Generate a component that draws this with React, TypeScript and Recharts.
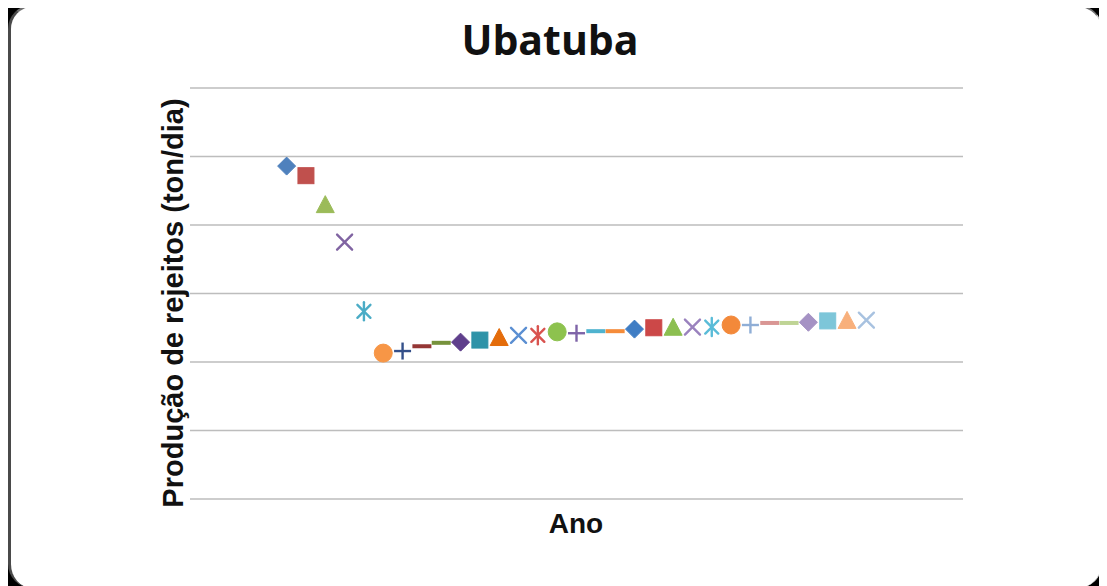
import React from 'react';
import { ScatterChart, Scatter, XAxis, YAxis, CartesianGrid } from 'recharts';

// ---- data ----
const years: number[] = [
  2000, 2001, 2002, 2003, 2004, 2005, 2006, 2007, 2008, 2009,
  2010, 2011, 2012, 2013, 2014, 2015, 2016, 2017, 2018, 2019,
  2020, 2021, 2022, 2023, 2024, 2025, 2026, 2027, 2028, 2029, 2030,
];
const production: number[] = [
  48.6, 47.2, 42.9, 37.5, 27.4, 21.3, 21.6, 22.3, 22.8, 22.9,
  23.2, 23.5, 23.9, 23.9, 24.4, 24.2, 24.5, 24.5, 24.8, 25.0,
  25.0, 25.1, 25.1, 25.4, 25.4, 25.7, 25.7, 25.8, 26.0, 26.0, 26.1,
];
const yTicks: number[] = [0, 10, 20, 30, 40, 50, 60];
const xDomain: [number, number] = [1995, 2035];

const titleText = 'Ubatuba';
const yLabelText = 'Produção de rejeitos (ton/dia)';
const xLabelText = 'Ano';

// ---- styles ----
const palettes: string[][] = [
  ['#4F81BD', '#C0504D', '#9BBB59', '#8064A2', '#4BACC6', '#F79646'],
  ['#34508A', '#953735', '#76923C', '#5F3F8C', '#2E93A8', '#E46C0A'],
  ['#5B8FD2', '#D9534F', '#8DC24E', '#7E64A8', '#4FB3CF', '#F58C3A'],
  ['#3F7DC4', '#CC4848', '#8CBF50', '#9A82BE', '#5ABCD8', '#F3893A'],
  ['#8FAED6', '#D99694', '#BFD495', '#A592C4', '#7DC6D9', '#F8B07C'],
  ['#A8C2E0', '#E0A8A6', '#C9DCA6', '#B8A9D0', '#98D2E1', '#FAC59E'],
];
const markerCycle = ['diamond', 'square', 'triangle', 'x', 'star', 'circle', 'plus', 'dash', 'dash'];

const data = years.map((y, i) => ({ year: y, value: production[i], idx: i }));

const colorOf = (i: number) => palettes[Math.floor(i / 6) % palettes.length][i % 6];

const Marker = (props: any) => {
  const { cx, cy, payload } = props;
  if (cx == null || cy == null) return null;
  const i = payload.idx as number;
  const c = colorOf(i);
  const kind = markerCycle[i % markerCycle.length];
  switch (kind) {
    case 'diamond':
      return (
        <polygon
          points={`${cx},${cy - 9} ${cx + 9},${cy} ${cx},${cy + 9} ${cx - 9},${cy}`}
          fill={c}
          stroke={c}
          strokeWidth={1}
        />
      );
    case 'square':
      return <rect x={cx - 8} y={cy - 8} width={16} height={16} fill={c} stroke={c} strokeWidth={1} />;
    case 'triangle':
      return (
        <polygon
          points={`${cx},${cy - 9.5} ${cx + 9},${cy + 7.5} ${cx - 9},${cy + 7.5}`}
          fill={c}
          stroke={c}
          strokeWidth={1}
        />
      );
    case 'x':
      return (
        <g stroke={c} strokeWidth={2.4} strokeLinecap="round">
          <line x1={cx - 7.5} y1={cy - 7.5} x2={cx + 7.5} y2={cy + 7.5} />
          <line x1={cx - 7.5} y1={cy + 7.5} x2={cx + 7.5} y2={cy - 7.5} />
        </g>
      );
    case 'star':
      return (
        <g stroke={c} strokeWidth={2.4} strokeLinecap="round">
          <line x1={cx - 6.5} y1={cy - 6.5} x2={cx + 6.5} y2={cy + 6.5} />
          <line x1={cx - 6.5} y1={cy + 6.5} x2={cx + 6.5} y2={cy - 6.5} />
          <line x1={cx} y1={cy - 9} x2={cx} y2={cy + 9} />
        </g>
      );
    case 'circle':
      return <circle cx={cx} cy={cy} r={9} fill={c} stroke={c} strokeWidth={1} />;
    case 'plus':
      return (
        <g stroke={c} strokeWidth={2.4}>
          <line x1={cx - 8.5} y1={cy} x2={cx + 8.5} y2={cy} />
          <line x1={cx} y1={cy - 8.5} x2={cx} y2={cy + 8.5} />
        </g>
      );
    default:
      return <rect x={cx - 9.5} y={cy - 2} width={19} height={4} fill={c} />;
  }
};

const W = 1094;
const H = 583;

export default function App() {
  return (
    <div
      style={{
        position: 'relative',
        width: W,
        height: H,
        marginTop: -3,
        background: '#000',
        overflow: 'hidden',
      }}
    >
      <div
        style={{
          position: 'absolute',
          left: 0,
          top: 0,
          right: 0,
          bottom: 0,
          background: '#fff',
          borderRadius: 24,
          borderLeft: '3px solid #4a4a4a',
          borderTop: '2px solid #707070',
          borderRight: '1px solid #d8d8d8',
        }}
      />
      <div style={{ position: 'absolute', left: 0, top: 0 }}>
        <ScatterChart width={W} height={H} margin={{ top: 83, right: 139, bottom: 89, left: 182 }}>
          <CartesianGrid vertical={false} stroke="#bdbdbd" strokeWidth={1.5} />
          <XAxis
            type="number"
            dataKey="year"
            domain={xDomain}
            height={0}
            tick={false}
            tickLine={false}
            axisLine={{ stroke: '#a6a6a6', strokeWidth: 1.5 }}
          />
          <YAxis
            type="number"
            dataKey="value"
            domain={[0, 60]}
            ticks={yTicks}
            interval={0}
            width={0}
            tick={{ fill: 'transparent', fontSize: 1 }}
            tickLine={false}
            axisLine={false}
          />
          <Scatter data={data} shape={<Marker />} isAnimationActive={false} />
        </ScatterChart>
      </div>
      <svg
        width={W}
        height={H}
        style={{ position: 'absolute', left: 0, top: 0, pointerEvents: 'none' }}
      >
        <text
          x={542}
          y={50}
          textAnchor="middle"
          fontFamily="'Open Sans', sans-serif"
          fontWeight={700}
          fontSize={41}
          fill="#111"
        >
          {titleText}
        </text>
        <text
          x={568}
          y={528}
          textAnchor="middle"
          fontFamily="'Liberation Sans', Arial, sans-serif"
          fontWeight={700}
          fontSize={28}
          fill="#111"
        >
          {xLabelText}
        </text>
        <text
          transform={`translate(175, 298) rotate(-90)`}
          x={0}
          y={0}
          textAnchor="middle"
          fontFamily="'Liberation Sans', Arial, sans-serif"
          fontWeight={700}
          fontSize={29}
          fill="#111"
        >
          {yLabelText}
        </text>
      </svg>
    </div>
  );
}
